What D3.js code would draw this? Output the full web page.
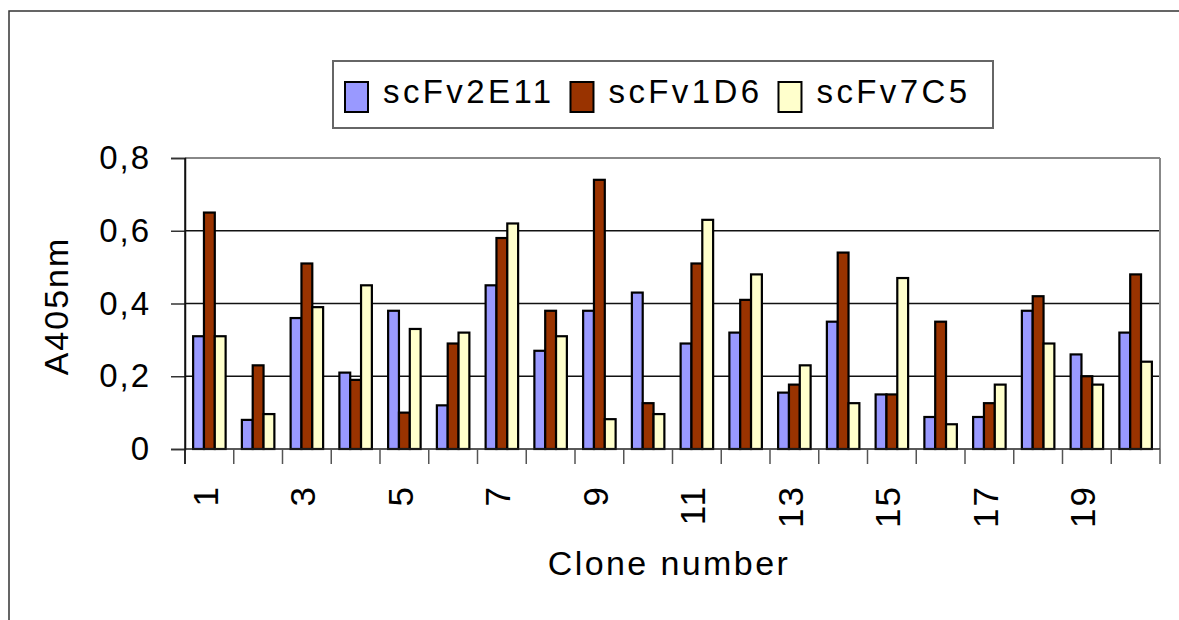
<!DOCTYPE html>
<html><head><meta charset="utf-8">
<script src="https://cdn.jsdelivr.net/npm/d3@7"></script>
<style>
html,body{margin:0;padding:0;background:#fff;}
svg{display:block;font-family:Arial,"Liberation Sans",sans-serif;}
</style></head>
<body>
<svg id="chart" width="1179" height="620"></svg>
<script>
const clones = ["1","2","3","4","5","6","7","8","9","10","11","12","13","14","15","16","17","18","19","20"];
const seriesNames = ["scFv2E11","scFv1D6","scFv7C5"];
const scFv2E11 = [0.31,0.08,0.36,0.21,0.38,0.12,0.45,0.27,0.38,0.43,0.29,0.32,0.155,0.35,0.15,0.088,0.088,0.38,0.26,0.32];
const scFv1D6  = [0.65,0.23,0.51,0.19,0.10,0.29,0.58,0.38,0.74,0.126,0.51,0.41,0.177,0.54,0.15,0.35,0.126,0.42,0.20,0.48];
const scFv7C5  = [0.31,0.096,0.39,0.45,0.33,0.32,0.62,0.31,0.082,0.096,0.63,0.48,0.23,0.126,0.47,0.068,0.177,0.29,0.177,0.24];
const yTicks = [0,0.2,0.4,0.6,0.8];
const yTickLabels = ["0","0,2","0,4","0,6","0,8"];
const xTickLabels = ["1","","3","","5","","7","","9","","11","","13","","15","","17","","19",""];
const colors = ["#9999FF","#993300","#FFFFCC"];

const values = [scFv2E11, scFv1D6, scFv7C5];
const svg = d3.select("#chart");
const L = 185, R = 1160, T = 158, B = 449;

// outer frame
svg.append("rect").attr("x",9).attr("y",11).attr("width",1200).attr("height",700)
  .attr("fill","#fff").attr("stroke","#333").attr("stroke-width",1.5);

const x0 = d3.scaleBand().domain(clones).range([L,R]).padding(0);
const bw = x0.bandwidth();
const x1 = d3.scaleBand().domain(seriesNames).range([bw*1.5/9, bw - bw*1.5/9]).padding(0);
const y = d3.scaleLinear().domain([0,0.8]).range([B,T]);

// gridlines
svg.append("g").selectAll("line").data(yTicks.filter(v=>v>0 && v<0.8)).join("line")
  .attr("x1",L).attr("x2",R).attr("y1",d=>y(d)).attr("y2",d=>y(d))
  .attr("stroke","#111").attr("stroke-width",1.3);
// plot border top/right
svg.append("line").attr("x1",L).attr("x2",R).attr("y1",T).attr("y2",T).attr("stroke","#888").attr("stroke-width",2);
svg.append("line").attr("x1",R).attr("x2",R).attr("y1",T).attr("y2",B).attr("stroke","#888").attr("stroke-width",2);

// bars
const g = svg.append("g");
seriesNames.forEach((s,si)=>{
  g.append("g").selectAll("rect").data(values[si]).join("rect")
    .attr("x",(d,i)=>x0(clones[i]) + x1(s))
    .attr("y",d=>y(d))
    .attr("width",x1.bandwidth())
    .attr("height",d=>B - y(d))
    .attr("fill",colors[si]).attr("stroke","#000").attr("stroke-width",2.2);
});

// y axis
const yAxis = d3.axisLeft(y).tickValues(yTicks).tickSize(14).tickPadding(20)
  .tickFormat((d,i)=>yTickLabels[i]);
const ya = svg.append("g").attr("transform",`translate(${L},0)`).call(yAxis);
ya.select(".domain").attr("stroke","#111").attr("stroke-width",1.5);
ya.selectAll(".tick line").attr("stroke","#333").attr("stroke-width",1.5);
ya.selectAll("text").attr("font-size",33).attr("fill","#000").attr("letter-spacing",2)
  .attr("font-family","Arial, 'Liberation Sans', sans-serif");

// x axis: tick marks at category boundaries
const bounds = clones.map(c=>x0(c)).concat([R]);
svg.append("line").attr("x1",L).attr("x2",R).attr("y1",B).attr("y2",B).attr("stroke","#222").attr("stroke-width",1.5);
svg.append("g").selectAll("line").data(bounds).join("line")
  .attr("x1",d=>d).attr("x2",d=>d).attr("y1",B).attr("y2",B+15)
  .attr("stroke","#555").attr("stroke-width",1.5);
svg.append("line").attr("x1",L).attr("x2",L).attr("y1",T).attr("y2",B+15).attr("stroke","#111").attr("stroke-width",1.5);

svg.append("g").selectAll("text").data(clones).join("text")
  .attr("transform",(d,i)=>`translate(${x0(d)+bw/2-4},${485}) rotate(-90)`)
  .attr("text-anchor","end").attr("dominant-baseline","central")
  .attr("font-size",35).attr("letter-spacing",2)
  .text((d,i)=>xTickLabels[i]);

// axis titles
svg.append("text").attr("x",669).attr("y",575).attr("text-anchor","middle")
  .attr("font-size",34).attr("letter-spacing",2.4).text("Clone number");
svg.append("text").attr("transform","translate(68,306) rotate(-90)").attr("text-anchor","middle")
  .attr("font-size",34).attr("letter-spacing",2).text("A405nm");

// legend
const lg = svg.append("g");
lg.append("rect").attr("x",333).attr("y",61).attr("width",660).attr("height",67)
  .attr("fill","#fff").attr("stroke","#666").attr("stroke-width",2);
let lx = 345;
seriesNames.forEach((s,i)=>{
  lg.append("rect").attr("x",lx).attr("y",82).attr("width",23).attr("height",30)
    .attr("fill",colors[i]).attr("stroke","#000").attr("stroke-width",2);
  const t = lg.append("text").attr("x",lx+38).attr("y",103).attr("font-size",33)
    .attr("letter-spacing",3.4).text(s);
  const w = t.node().getComputedTextLength();
  lx = lx + 38 + w + 16;
});
</script>
</body></html>
